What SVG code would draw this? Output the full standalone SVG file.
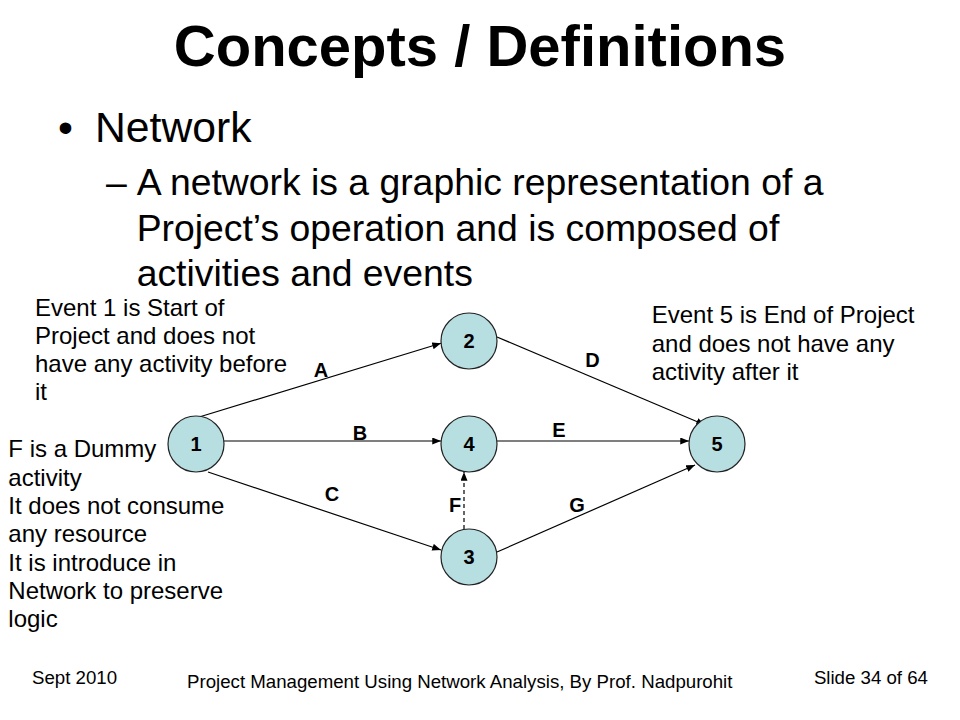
<svg xmlns="http://www.w3.org/2000/svg" width="960" height="720" viewBox="0 0 960 720">
<defs>
<style>
.t{font-family:"Liberation Sans",Arial,sans-serif;fill:#000}
.title{font-size:58px;font-weight:bold}
.l1{font-size:42.7px}
.l2{font-size:37.33px}
.note{font-size:24px}
.foot{font-size:18.67px}
.lab{font-size:20px;font-weight:bold}
.node circle{fill:#B7DEE0;stroke:#222;stroke-width:1.2}
.edge{stroke:#000;stroke-width:1.2;fill:none;marker-end:url(#ah)}
.dash{stroke-dasharray:4 3}
</style>
<marker id="ah" viewBox="0 0 10 8" refX="10" refY="4" markerWidth="9" markerHeight="7" markerUnits="userSpaceOnUse" orient="auto">
<path d="M0,0 L10,4 L0,8 z" fill="#000"/>
</marker>
</defs>
<rect width="960" height="720" fill="#fff"/>
<text class="t title" x="480" y="66" text-anchor="middle">Concepts / Definitions</text>
<text class="t l1" x="58" y="142">•</text>
<text class="t l1" x="95" y="142">Network</text>
<text class="t l2" x="106" y="195">–</text>
<text class="t l2" x="136.7" y="195">A network is a graphic representation of a</text>
<text class="t l2" x="136.7" y="240.5">Project’s operation and is composed of</text>
<text class="t l2" x="136.7" y="286">activities and events</text>
<g id="note-event1">
<text class="t note" x="35" y="316">Event 1 is Start of</text>
<text class="t note" x="35" y="344">Project and does not</text>
<text class="t note" x="35" y="372">have any activity before</text>
<text class="t note" x="35" y="400">it</text>
</g>
<g id="note-event5">
<text class="t note" x="651.7" y="323">Event 5 is End of Project</text>
<text class="t note" x="651.7" y="351.5">and does not have any</text>
<text class="t note" x="651.7" y="380">activity after it</text>
</g>
<g id="note-dummy">
<text class="t note" x="8.3" y="457.3">F is a Dummy</text>
<text class="t note" x="8.3" y="485.6">activity</text>
<text class="t note" x="8.3" y="514">It does not consume</text>
<text class="t note" x="8.3" y="542.3">any resource</text>
<text class="t note" x="8.3" y="570.6">It is introduce in</text>
<text class="t note" x="8.3" y="599">Network to preserve</text>
<text class="t note" x="8.3" y="627.3">logic</text>
</g>
<g id="connectors">
<line class="edge" x1="200" y1="416.7" x2="441" y2="343.3"/>
<line class="edge" x1="224" y1="441" x2="441" y2="441"/>
<line class="edge" x1="208" y1="472" x2="441" y2="550"/>
<line class="edge" x1="497" y1="337" x2="705" y2="425"/>
<line class="edge" x1="497" y1="441" x2="689" y2="441"/>
<line class="edge" x1="497" y1="552" x2="695" y2="465"/>
<line class="edge dash" x1="464" y1="529" x2="464" y2="472"/>
<text class="t lab" x="321" y="377" text-anchor="middle">A</text>
<text class="t lab" x="360" y="440" text-anchor="middle">B</text>
<text class="t lab" x="332" y="501" text-anchor="middle">C</text>
<text class="t lab" x="592.5" y="367" text-anchor="middle">D</text>
<text class="t lab" x="559" y="437" text-anchor="middle">E</text>
<text class="t lab" x="455" y="512" text-anchor="middle">F</text>
<text class="t lab" x="577" y="512" text-anchor="middle">G</text>
</g>
<g id="node1" class="node"><circle cx="196" cy="444" r="28"/><text class="t lab" x="196" y="451" text-anchor="middle">1</text></g>
<g id="node2" class="node"><circle cx="469" cy="341" r="28"/><text class="t lab" x="469" y="348" text-anchor="middle">2</text></g>
<g id="node4" class="node"><circle cx="469" cy="444" r="28"/><text class="t lab" x="469" y="451" text-anchor="middle">4</text></g>
<g id="node3" class="node"><circle cx="469" cy="557" r="28"/><text class="t lab" x="469" y="564" text-anchor="middle">3</text></g>
<g id="node5" class="node"><circle cx="717" cy="444" r="28"/><text class="t lab" x="717" y="451" text-anchor="middle">5</text></g>
<g id="footer">
<text class="t foot" x="32" y="684">Sept 2010</text>
<text class="t foot" x="187" y="688">Project Management Using Network Analysis, By Prof. Nadpurohit</text>
<text class="t foot" x="928" y="684" text-anchor="end">Slide 34 of 64</text>
</g>
</svg>
